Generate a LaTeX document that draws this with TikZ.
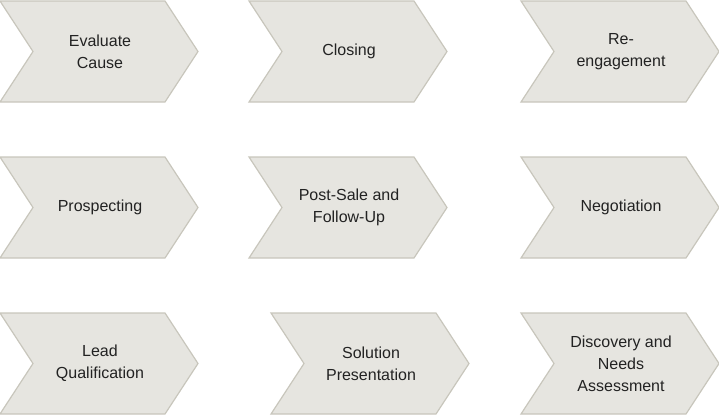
\documentclass[tikz,border=0pt]{standalone}
\usepackage{fontspec}
\setmainfont{Liberation Sans}
\definecolor{cfill}{HTML}{E6E5E0}
\definecolor{cline}{HTML}{C8C6BC}
\definecolor{ctext}{HTML}{222222}
\tikzset{chev/.style={fill=cfill,draw=cline,line width=1.2pt,line join=miter},
  lbl/.style={text=ctext,align=center,font=\fontsize{16}{22}\selectfont}}
\newcommand{\mychev}[4]{%
  \fill[chev] (#2,#3) -- ++(165,0) -- ++(33,-50.5) -- ++(-33,-50.5) -- ++(-165,0) -- ++(33,50.5) -- cycle;
  \node[lbl] (#1) at ({#2+100},{#3-50.5}) {#4};}
\begin{document}
\begin{tikzpicture}[x=1pt,y=1pt]
\useasboundingbox (0,0) rectangle (719,-416);
\mychev{a}{0}{-1}{Evaluate\\Cause}
\mychev{b}{249}{-1}{Closing}
\mychev{c}{521}{-1}{Re-\\engagement}
\mychev{d}{0}{-157}{Prospecting}
\mychev{e}{249}{-157}{Post-Sale and\\Follow-Up}
\mychev{f}{521}{-157}{Negotiation}
\mychev{g}{0}{-313}{Lead\\Qualification}
\mychev{h}{271}{-313}{Solution\\Presentation}
\mychev{i}{521}{-313}{Discovery and\\Needs\\Assessment}
\end{tikzpicture}
\end{document}
